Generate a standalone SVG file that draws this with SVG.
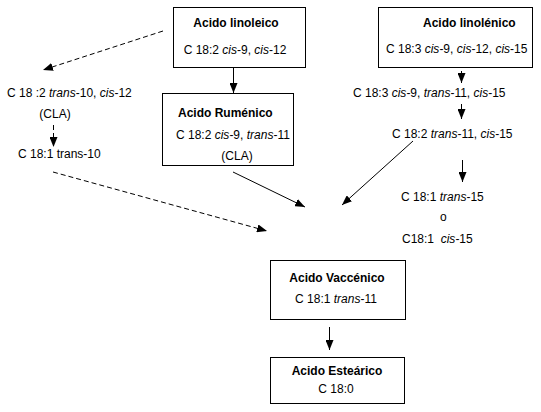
<svg xmlns="http://www.w3.org/2000/svg" width="541" height="412" viewBox="0 0 541 412">
<style>
text{font-family:"Liberation Sans",Arial,sans-serif;font-size:12px;fill:#000}
.b{font-weight:bold}
.m{text-anchor:middle}
.box{fill:#fff;stroke:#000;stroke-width:1}
.ln{stroke:#000;stroke-width:1;fill:none}
.d{stroke-dasharray:5,3}
</style>
<defs>
<marker id="ah" viewBox="0 0 10 8" refX="10" refY="4" markerWidth="10" markerHeight="8" markerUnits="userSpaceOnUse" orient="auto">
<path d="M0,0L10,4L0,8z" fill="#000"/>
</marker>
</defs>
<rect width="541" height="412" fill="#fff"/>
<g id="linoleico">
<rect class="box" x="173.5" y="7.5" width="132" height="60"/>
<text class="b m" x="236" y="27">Acido linoleico</text>
<text class="m" x="235" y="54">C 18:2 <tspan font-style="italic">cis</tspan>-9, <tspan font-style="italic">cis</tspan>-12</text>
</g>
<g id="rumenico">
<rect class="box" x="162.5" y="93.5" width="131" height="72"/>
<text class="b" x="178" y="117">Acido Ruménico</text>
<text x="176" y="139">C 18:2 <tspan font-style="italic">cis</tspan>-9, <tspan font-style="italic">trans</tspan>-11</text>
<text class="m" x="237" y="160">(CLA)</text>
</g>
<g id="linolenico">
<rect class="box" x="378.5" y="7.5" width="154" height="60"/>
<text class="b" x="423" y="27">Acido linolénico</text>
<text x="386" y="53">C 18:3 <tspan font-style="italic">cis</tspan>-9, <tspan font-style="italic">cis</tspan>-12, <tspan font-style="italic">cis</tspan>-15</text>
</g>
<g id="c183t11">
<text x="353" y="97">C 18:3 <tspan font-style="italic">cis</tspan>-9, <tspan font-style="italic">trans</tspan>-11, <tspan font-style="italic">cis</tspan>-15</text>
</g>
<g id="c182t11">
<text x="392" y="138">C 18:2 <tspan font-style="italic">trans</tspan>-11, <tspan font-style="italic">cis</tspan>-15</text>
</g>
<g id="c181t15">
<text x="401" y="201">C 18:1 <tspan font-style="italic">trans</tspan>-15</text>
<text x="440" y="221">o</text>
<text x="402" y="243" style="white-space:pre">C18:1  <tspan font-style="italic">cis</tspan>-15</text>
</g>
<g id="cla1012">
<text x="7" y="97">C 18 :2 <tspan font-style="italic">trans</tspan>-10, <tspan font-style="italic">cis</tspan>-12</text>
<text class="m" x="55" y="118">(CLA)</text>
</g>
<g id="c181t10">
<text x="18" y="158">C 18:1 trans-10</text>
</g>
<g id="vaccenico">
<rect class="box" x="270.5" y="260.5" width="135" height="59"/>
<text class="b m" x="337" y="282">Acido Vaccénico</text>
<text class="m" x="336" y="303">C 18:1 <tspan font-style="italic">trans</tspan>-11</text>
</g>
<g id="estearico">
<rect class="box" x="270.5" y="357.5" width="134" height="46"/>
<text class="b m" x="337" y="375">Acido Esteárico</text>
<text class="m" x="336" y="393">C 18:0</text>
</g>
<g id="connectors">
<line class="ln" x1="233.5" y1="68" x2="233.5" y2="93" marker-end="url(#ah)"/>
<line class="ln d" x1="163" y1="31" x2="43" y2="70" marker-end="url(#ah)"/>
<line class="ln d" x1="53.5" y1="125" x2="53.5" y2="147" marker-end="url(#ah)"/>
<line class="ln d" x1="53" y1="172" x2="267" y2="231" marker-end="url(#ah)"/>
<line class="ln" x1="233" y1="172" x2="305" y2="207" marker-end="url(#ah)"/>
<line class="ln" x1="461.5" y1="71" x2="461.5" y2="83" marker-end="url(#ah)"/>
<line class="ln" x1="461.5" y1="104" x2="461.5" y2="119" marker-end="url(#ah)"/>
<line class="ln" x1="413" y1="141" x2="342" y2="205" marker-end="url(#ah)"/>
<line class="ln" x1="462.5" y1="160" x2="462.5" y2="182" marker-end="url(#ah)"/>
<line class="ln" x1="329.5" y1="327" x2="329.5" y2="350" marker-end="url(#ah)"/>
</g>
</svg>
